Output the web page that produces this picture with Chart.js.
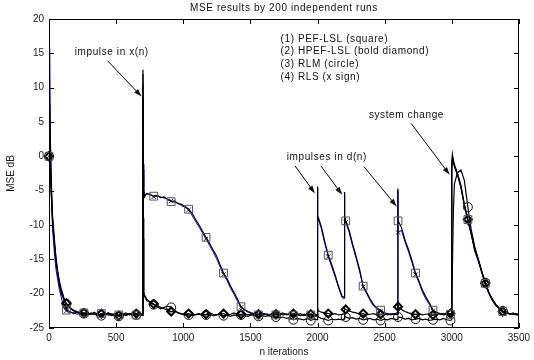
<!DOCTYPE html>
<html>
<head>
<meta charset="utf-8">
<title>MSE results by 200 independent runs</title>
<script src="https://cdn.jsdelivr.net/npm/chart.js@4.4.1/dist/chart.umd.min.js"></script>
<style>
    html, body { margin: 0; padding: 0; background: #fff; }
    #wrap { width: 534px; height: 360px; }
</style>
</head>
<body>
<div id="wrap"><canvas id="mseChart" width="534" height="360"></canvas></div>
<script>
// =========================================================================
// DATA
// =========================================================================

// iteration index n
const nIter = [
    0, 5, 10, 18, 26, 34, 42, 52, 65, 78, 91, 104, 117, 130, 156, 182, 208, 234,
    260, 286, 312, 338, 364, 390, 416, 442, 468, 494, 520, 546, 572, 598, 624, 650, 676, 698,
    700, 702, 706, 712, 720, 728, 754, 780,
    806, 832, 858, 884, 910, 936, 962, 988, 1014, 1040, 1066, 1092, 1118, 1144, 1170, 1196,
    1222, 1248, 1274, 1300, 1326, 1352, 1378, 1404, 1430, 1456, 1482, 1508, 1534, 1560, 1586,
    1612, 1638, 1664, 1690, 1716, 1742, 1768, 1794, 1820, 1846, 1872, 1898, 1924, 1950, 1976, 1998,
    2000, 2002, 2008, 2028, 2054, 2080, 2106, 2132, 2158, 2184, 2198,
    2200, 2204, 2210, 2236, 2262, 2288, 2314, 2340, 2366, 2392, 2418, 2444, 2470, 2496, 2522, 2548, 2574, 2598,
    2599, 2600, 2626, 2652, 2678, 2704, 2730, 2756, 2782, 2808, 2834, 2860, 2886, 2912, 2938, 2964, 2990, 2998,
    3000, 3005, 3012, 3020, 3042, 3068, 3094, 3120, 3146, 3172, 3198, 3224, 3250, 3276, 3302, 3328, 3354,
    3380, 3406, 3432, 3458, 3484, 3500
];

// (1) PEF-LSL, MSE in dB
const pefLsl = [
    0, 7.7, 2.0, -4.0, -8.5, -10.5, -12.5, -14.8, -16.8, -18.2, -19.3, -20.1, -21.0, -22.4, -22.6, -22.9, -22.7, -23.0,
    -22.8, -23.1, -22.9, -23.0, -23.2, -22.9, -23.1, -22.8, -23.0, -23.3, -23.1, -22.9, -23.2, -23.0, -22.8, -23.1, -22.9, -23.1,
    12.6, -2.0, -5.2, -5.9, -5.6, -5.4, -5.6, -5.8,
    -5.7, -6.0, -5.9, -6.3, -6.6, -6.5, -6.9, -7.0, -7.3, -7.7, -8.3, -9.2, -10.0, -10.9, -11.8, -12.7,
    -13.6, -14.5, -15.8, -17.0, -17.8, -18.9, -19.8, -20.8, -21.9, -22.3, -22.6, -22.8, -22.9, -23.1, -22.9,
    -23.0, -23.2, -22.9, -23.1, -23.0, -22.8, -23.1, -23.0, -23.2, -23.1, -22.9, -23.2, -23.0, -23.1, -23.3, -23.2,
    -4.4, -8.7, -9.0, -10.2, -12.4, -14.4, -15.8, -17.3, -19.0, -20.4, -20.5,
    -5.2, -8.8, -9.4, -10.8, -12.8, -14.6, -16.5, -18.9, -19.8, -20.8, -21.6, -22.1, -22.4, -22.8, -22.9, -23.1, -22.9, -23.0,
    -4.7, -9.4, -10.4, -12.2, -13.6, -15.2, -17.0, -18.2, -19.5, -20.5, -21.4, -22.4, -22.7, -22.9, -23.0, -22.8, -23.0, -23.1,
    -1.5, 0.3, -0.5, -1.2, -2.4, -4.2, -7.0, -9.2, -11.2, -13.6, -15.0, -16.8, -18.5, -19.8, -20.8, -21.6, -22.1,
    -22.6, -22.7, -23.0, -22.8, -23.1, -23.0
];

// (2) HPEF-LSL
const hpefLsl = [
    0, 3.0, -2.0, -5.5, -9.0, -11.0, -13.0, -15.0, -17.0, -18.6, -19.8, -20.5, -21.0, -21.4, -22.0, -22.4, -22.6, -22.8,
    -22.8, -22.9, -23.0, -22.7, -23.1, -22.9, -23.0, -22.8, -23.1, -22.9, -23.2, -23.0, -22.8, -23.1, -23.0, -22.9, -23.1, -23.0,
    12.0, -9.0, -19.8, -20.2, -20.5, -20.8, -21.2, -21.5,
    -21.8, -22.0, -22.2, -22.4, -22.6, -22.5, -22.8, -22.9, -23.0, -22.9, -23.1, -23.0, -22.9, -23.1, -23.0, -22.8,
    -23.0, -23.1, -22.9, -22.9, -23.1, -23.0, -22.8, -23.0, -23.0, -22.9, -23.1, -22.9, -23.1, -23.0, -22.8,
    -23.0, -23.1, -22.9, -23.0, -22.9, -23.1, -23.0, -23.1, -22.9, -23.0, -23.2, -23.0, -23.1, -23.0, -23.1, -23.1,
    -22.0, -22.3, -22.5, -22.7, -22.8, -22.9, -23.0, -22.9, -23.1, -23.0, -23.0,
    -22.0, -22.2, -22.3, -22.5, -22.7, -22.8, -23.0, -22.9, -23.1, -23.0, -22.9, -23.1, -23.0, -22.9, -23.1, -23.0, -22.9, -23.0,
    -21.5, -21.9, -22.3, -22.6, -22.8, -22.9, -23.0, -22.9, -23.1, -23.0, -22.9, -23.1, -23.0, -22.9, -23.1, -23.0, -22.9, -23.0,
    -2.0, -0.2, -0.8, -1.5, -2.6, -4.4, -7.1, -9.2, -11.3, -13.7, -15.1, -16.9, -18.5, -19.9, -20.9, -21.7, -22.2,
    -22.6, -22.8, -22.9, -23.0, -23.1, -23.0
];

// (3) RLM
const rlm = [
    0, 2.0, -2.5, -6.0, -9.3, -11.3, -13.3, -15.3, -17.2, -18.8, -19.9, -20.6, -21.1, -21.5, -22.1, -22.5, -22.7, -22.9,
    -22.9, -23.1, -22.8, -23.0, -23.0, -23.2, -22.9, -23.0, -23.2, -22.9, -23.3, -23.1, -23.0, -22.9, -23.2, -23.1, -23.0, -23.2,
    10.5, -12.0, -20.0, -20.4, -20.7, -21.0, -21.3, -21.6,
    -21.9, -22.2, -22.0, -21.8, -22.0, -22.4, -22.8, -23.0, -23.1, -23.1, -23.2, -23.1, -23.0, -23.2, -23.1, -23.0,
    -23.2, -23.1, -23.0, -23.2, -23.1, -23.3, -23.1, -23.2, -23.1, -23.2, -23.3, -23.1, -23.2, -23.3, -23.2,
    -23.3, -23.2, -23.4, -23.4, -23.5, -23.4, -23.6, -23.5, -23.8, -23.6, -23.7, -23.8, -23.6, -23.9, -23.7, -23.8,
    -23.0, -23.2, -23.4, -23.6, -23.7, -23.9, -23.7, -23.8, -23.7, -23.8, -23.7,
    -23.0, -23.2, -23.4, -23.6, -23.5, -23.7, -23.6, -23.8, -23.7, -23.6, -23.8, -23.7, -23.9, -23.7, -23.8, -23.6, -23.7, -23.8,
    -23.2, -23.4, -23.5, -23.7, -23.6, -23.8, -23.7, -23.6, -23.8, -23.7, -23.9, -23.8, -23.7, -23.8, -23.6, -23.8, -23.9, -23.8,
    -23.0, -16.0, -8.0, -4.0, -2.4, -2.0, -3.5, -7.4, -10.8, -13.2, -15.0, -16.8, -18.4, -19.8, -20.8, -21.6, -22.1,
    -22.5, -22.8, -22.9, -23.0, -22.9, -23.0
];

// (4) RLS
const rls = [
    0, 15.7, 4.0, -5.0, -10.5, -12.5, -14.5, -16.5, -18.0, -19.5, -20.5, -21.6, -22.3, -22.5, -22.8, -22.7, -23.0, -22.9,
    -23.0, -22.8, -23.0, -22.9, -23.2, -23.0, -22.8, -23.2, -22.9, -23.1, -23.2, -23.0, -23.1, -22.9, -23.1, -22.9, -23.0, -23.0,
    8.4, -1.1, -4.5, -5.6, -5.7, -5.5, -5.5, -5.9,
    -5.8, -5.9, -6.1, -6.2, -6.5, -6.7, -6.8, -7.2, -7.4, -7.8, -8.6, -9.5, -10.3, -11.2, -12.0, -13.0,
    -13.9, -14.9, -16.1, -17.2, -18.1, -19.2, -20.1, -21.1, -22.0, -22.4, -22.7, -22.9, -23.0, -23.0, -23.1,
    -22.9, -23.0, -23.1, -23.0, -23.1, -23.0, -22.9, -23.1, -23.1, -23.0, -23.2, -23.1, -23.2, -23.0, -23.2, -23.3,
    -4.6, -8.9, -9.3, -10.5, -12.7, -14.6, -16.1, -17.6, -19.2, -20.6, -20.7,
    -5.5, -9.0, -9.6, -11.1, -13.1, -14.9, -16.8, -19.0, -20.0, -21.0, -21.8, -22.3, -22.6, -22.9, -23.0, -22.9, -23.0, -23.1,
    -5.0, -11.1, -10.8, -12.5, -13.9, -15.5, -17.2, -18.4, -19.8, -20.8, -21.6, -22.5, -22.8, -23.0, -22.9, -23.0, -23.1, -23.0,
    -1.0, 0.0, -0.8, -1.5, -2.7, -4.6, -7.3, -9.5, -11.5, -13.9, -15.3, -17.0, -18.7, -20.0, -21.0, -21.8, -22.2,
    -22.7, -22.8, -22.9, -23.0, -23.0, -23.1
];

// axis ticks
const xTicks = [0, 500, 1000, 1500, 2000, 2500, 3000, 3500];
const yTicks = [-25, -20, -15, -10, -5, 0, 5, 10, 15, 20];

const legendLines = [
    '(1) PEF-LSL (square)',
    '(2) HPEF-LSL (bold diamond)',
    '(3) RLM (circle)',
    '(4) RLS (x sign)'
];

// =========================================================================
// CHART
// =========================================================================
const FONT = '"Liberation Sans", Arial, Helvetica, sans-serif';
const MARK_EVERY = 130;   // a marker every 130 iterations

Chart.defaults.font.family = FONT;
Chart.defaults.color = '#1a1a1a';

const toPoints = vals => nIter.map((n, i) => ({ x: n, y: vals[i] }));
const markerSize = r => ctx => (ctx.raw && ctx.raw.x % MARK_EVERY === 0) ? r : 0;

// free text and arrows, positioned in data units (n, dB)
const notes = [
    { text: 'impulse in x(n)', n: 192, db: 15.2 },
    { text: 'impulses in d(n)', n: 1771, db: -0.2 },
    { text: 'system change', n: 2383, db: 6.0 }
];
const arrows = [
    { from: [437, 13.9], to: [690, 8.7] },
    { from: [1833, -1.4], to: [1981, -5.4] },
    { from: [2026, -1.4], to: [2184, -5.6] },
    { from: [2346, -1.5], to: [2590, -7.3] },
    { from: [2697, 4.8], to: [2985, -2.7] }
];

const frameAndNotes = {
    id: 'frameAndNotes',
    afterDraw(chart) {
        const { ctx, chartArea: a, scales: { x, y } } = chart;
        ctx.save();

        // box + inward ticks (MATLAB style)
        ctx.strokeStyle = '#000';
        ctx.lineWidth = 1;
        ctx.beginPath();
        ctx.rect(Math.round(a.left) + 0.5, Math.round(a.top) + 0.5,
                 Math.round(a.width) - 1, Math.round(a.height) - 1);
        xTicks.forEach(v => {
            const px = Math.round(x.getPixelForValue(v)) + 0.5;
            ctx.moveTo(px, a.bottom); ctx.lineTo(px, a.bottom - 5);
            ctx.moveTo(px, a.top); ctx.lineTo(px, a.top + 5);
        });
        yTicks.forEach(v => {
            const py = Math.round(y.getPixelForValue(v)) + 0.5;
            ctx.moveTo(a.left, py); ctx.lineTo(a.left + 5, py);
            ctx.moveTo(a.right, py); ctx.lineTo(a.right - 5, py);
        });
        ctx.stroke();

        // texts
        ctx.fillStyle = '#111';
        ctx.font = '10px ' + FONT;
        ctx.letterSpacing = '0.6px';
        ctx.textBaseline = 'middle';

        ctx.textAlign = 'center';
        ctx.fillText('MSE results by 200 independent runs', (a.left + a.right) / 2, 8);

        ctx.textAlign = 'left';
        legendLines.forEach((t, i) => {
            ctx.fillText(t, x.getPixelForValue(1725), y.getPixelForValue(17.1 - i * 1.85));
        });
        notes.forEach(nt => {
            ctx.fillText(nt.text, x.getPixelForValue(nt.n), y.getPixelForValue(nt.db));
        });

        // arrows
        ctx.lineWidth = 1;
        arrows.forEach(ar => {
            const x0 = x.getPixelForValue(ar.from[0]), y0 = y.getPixelForValue(ar.from[1]);
            const x1 = x.getPixelForValue(ar.to[0]), y1 = y.getPixelForValue(ar.to[1]);
            const ang = Math.atan2(y1 - y0, x1 - x0);
            ctx.beginPath();
            ctx.moveTo(x0, y0);
            ctx.lineTo(x1 - 5 * Math.cos(ang), y1 - 5 * Math.sin(ang));
            ctx.stroke();
            ctx.beginPath();
            ctx.moveTo(x1, y1);
            ctx.lineTo(x1 - 8 * Math.cos(ang) + 2.6 * Math.sin(ang), y1 - 8 * Math.sin(ang) - 2.6 * Math.cos(ang));
            ctx.lineTo(x1 - 8 * Math.cos(ang) - 2.6 * Math.sin(ang), y1 - 8 * Math.sin(ang) + 2.6 * Math.cos(ang));
            ctx.closePath();
            ctx.fill();
        });
        ctx.restore();
    }
};

const ctxMse = document.getElementById('mseChart').getContext('2d');
new Chart(ctxMse, {
    type: 'line',
    data: {
        datasets: [
            {
                label: 'PEF-LSL',
                data: toPoints(pefLsl),
                borderColor: '#000',
                borderWidth: 1.2,
                pointStyle: 'rect',
                pointRadius: markerSize(5.5),
                pointBorderColor: '#555',
                pointBorderWidth: 1,
                pointBackgroundColor: 'rgba(0,0,0,0)',
                clip: 8,
                order: 1
            },
            {
                label: 'HPEF-LSL',
                data: toPoints(hpefLsl),
                borderColor: '#000',
                borderWidth: 1.2,
                pointStyle: 'rectRot',
                pointRadius: markerSize(4),
                pointBorderColor: '#000',
                pointBorderWidth: 2,
                pointBackgroundColor: 'rgba(0,0,0,0)',
                clip: 8,
                order: 2
            },
            {
                label: 'RLM',
                data: toPoints(rlm),
                borderColor: '#000',
                borderWidth: 1.2,
                pointStyle: 'circle',
                pointRadius: markerSize(4.5),
                pointBorderColor: '#111',
                pointBorderWidth: 1,
                pointBackgroundColor: 'rgba(0,0,0,0)',
                clip: 8,
                order: 3
            },
            {
                label: 'RLS',
                data: toPoints(rls),
                borderColor: '#0000ff',
                borderWidth: 1,
                pointStyle: 'crossRot',
                pointRadius: markerSize(3),
                pointBorderColor: '#222',
                pointBorderWidth: 1,
                clip: 8,
                order: 4
            }
        ]
    },
    options: {
        responsive: false,
        animation: false,
        events: [],
        devicePixelRatio: 1,
        layout: { padding: { top: 19, right: 12, left: 0, bottom: 0 } },
        plugins: { legend: { display: false }, tooltip: { enabled: false }, title: { display: false } },
        elements: { line: { tension: 0 } },
        scales: {
            x: {
                type: 'linear',
                min: 0,
                max: 3500,
                afterBuildTicks: s => { s.ticks = xTicks.map(v => ({ value: v })); },
                grid: { display: false, drawTicks: false },
                border: { display: false },
                ticks: { font: { size: 10 }, padding: 4, maxRotation: 0, callback: v => String(v) },
                title: { display: true, text: 'n iterations', font: { size: 10 }, padding: { top: 0, bottom: 2 } },
                afterFit: s => { s.height = 32; }
            },
            y: {
                min: -25,
                max: 20,
                afterBuildTicks: s => { s.ticks = yTicks.map(v => ({ value: v })); },
                grid: { display: false, drawTicks: false },
                border: { display: false },
                ticks: { font: { size: 10 }, padding: 5, callback: v => String(v) },
                title: { display: true, text: 'MSE dB', font: { size: 10 }, padding: { top: 5, bottom: 0 } },
                afterFit: s => { s.width = 49; }
            }
        }
    },
    plugins: [frameAndNotes]
});
</script>
</body>
</html>
